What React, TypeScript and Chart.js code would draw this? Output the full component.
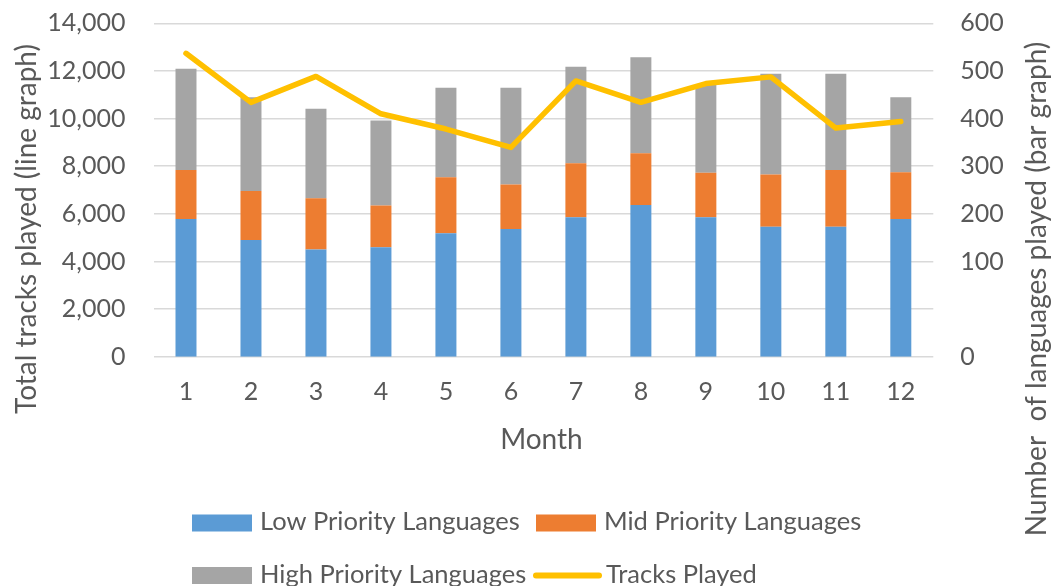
import { useEffect, useRef } from 'react';
import { Chart, registerables } from 'chart.js';

Chart.register(...registerables);

// ---- data ----
const months = ['1', '2', '3', '4', '5', '6', '7', '8', '9', '10', '11', '12'];
const lowPriority = [248, 210, 193, 197, 222, 230, 251, 273, 251, 234, 234, 248];
const midPriority = [88, 88, 92, 75, 101, 80, 97, 93, 80, 94, 102, 84];
const highPriority = [182, 169, 161, 153, 161, 174, 174, 173, 159, 181, 173, 135];
const tracksPlayed = [12740, 10680, 11770, 10200, 9560, 8790, 11580, 10680, 11470, 11750, 9600, 9880];
const seriesLabels = ['Low Priority Languages', 'Mid Priority Languages', 'High Priority Languages', 'Tracks Played'];
const leftMax = 14000;
const leftStep = 2000;
const rightMax = 600;
const rightTickLabels = ['0', '', '100', '200', '300', '400', '500', '600'];
const xTitle = 'Month';
const leftTitle = 'Total tracks played (line graph)';
const rightTitle = 'Number  of languages played (bar graph)';

// ---- styles ----
const FONT = 'Lato, "Open Sans", sans-serif';
const TEXT = '#595959';
const BLUE = '#5B9BD5';
const ORANGE = '#ED7D31';
const GRAY = '#A5A5A5';
const GOLD = '#FFC000';
const GRID = '#D9D9D9';

export default function App() {
  const ref = useRef<HTMLCanvasElement | null>(null);

  useEffect(() => {
    document.body.style.margin = '0';
    const canvas = ref.current;
    if (!canvas) return;

    const textPlugin = {
      id: 'textPlugin',
      afterDraw(chart: any) {
        const ctx = chart.ctx as CanvasRenderingContext2D;
        const area = chart.chartArea;
        ctx.save();
        ctx.fillStyle = TEXT;
        // x title
        ctx.font = `28px ${FONT}`;
        ctx.textAlign = 'center';
        ctx.textBaseline = 'middle';
        ctx.fillText(xTitle, (area.left + area.right) / 2 - 2, 440);
        // left title
        ctx.save();
        ctx.translate(27, 229);
        ctx.rotate(-Math.PI / 2);
        ctx.fillText(leftTitle, 0, 0);
        ctx.restore();
        // right title
        ctx.save();
        ctx.translate(1037, 289);
        ctx.rotate(-Math.PI / 2);
        ctx.fillText(rightTitle, 0, 0);
        ctx.restore();

        // legend
        const ds = chart.data.datasets;
        const cols = [192, 536];
        const rows = [523, 575.5];
        ctx.font = `25.5px ${FONT}`;
        ctx.textAlign = 'left';
        ctx.textBaseline = 'middle';
        ds.forEach((d: any, i: number) => {
          const cx = cols[i % 2];
          const cy = rows[Math.floor(i / 2)];
          if (d.type === 'line') {
            ctx.strokeStyle = d.borderColor;
            ctx.lineWidth = 6;
            ctx.lineCap = 'round';
            ctx.beginPath();
            ctx.moveTo(cx, cy);
            ctx.lineTo(cx + 63, cy);
            ctx.stroke();
            ctx.fillStyle = TEXT;
            ctx.fillText(d.label, cx + 70, cy - 1);
          } else {
            ctx.fillStyle = d.backgroundColor;
            ctx.fillRect(cx, cy - 8.5, 60, 17);
            ctx.fillStyle = TEXT;
            ctx.fillText(d.label, cx + 68, cy - 1);
          }
        });
        ctx.restore();
      },
    };

    const noVPad = (s: any) => { s.paddingTop = 0; s.paddingBottom = 0; };

    const chart = new Chart(canvas, {
      data: {
        labels: months,
        datasets: [
          { type: 'bar', label: seriesLabels[0], data: lowPriority, backgroundColor: BLUE, yAxisID: 'y1', order: 1, barPercentage: 0.323, categoryPercentage: 1 },
          { type: 'bar', label: seriesLabels[1], data: midPriority, backgroundColor: ORANGE, yAxisID: 'y1', order: 1, barPercentage: 0.323, categoryPercentage: 1 },
          { type: 'bar', label: seriesLabels[2], data: highPriority, backgroundColor: GRAY, yAxisID: 'y1', order: 1, barPercentage: 0.323, categoryPercentage: 1 },
          { type: 'line', label: seriesLabels[3], data: tracksPlayed, borderColor: GOLD, backgroundColor: GOLD, borderWidth: 5.5, pointRadius: 0, tension: 0, borderJoinStyle: 'round', borderCapStyle: 'round', yAxisID: 'y', order: 0 },
        ] as any,
      },
      options: {
        responsive: false,
        animation: false,
        events: [],
        layout: { padding: { left: 0, right: 0, top: 23.3, bottom: 586 - 356.7 - 60 } },
        plugins: { legend: { display: false }, tooltip: { enabled: false }, title: { display: false } },
        scales: {
          x: {
            type: 'category',
            stacked: true,
            offset: true,
            grid: { display: false, drawTicks: false },
            border: { display: false },
            ticks: { color: TEXT, font: { family: FONT, size: 25 }, padding: 20, maxRotation: 0, autoSkip: false },
            afterFit: (s: any) => { s.height = 60; s.paddingLeft = 0; s.paddingRight = 0; },
          },
          y: {
            type: 'linear',
            position: 'left',
            min: 0,
            max: leftMax,
            grid: { color: GRID, lineWidth: 1.5, drawTicks: false },
            border: { display: false },
            ticks: {
              stepSize: leftStep,
              color: TEXT,
              font: { family: FONT, size: 25 },
              padding: 28,
              callback: (v: any) => Number(v).toLocaleString('en-US'),
            },
            afterFit: (s: any) => { s.width = 153.5; noVPad(s); },
          },
          y1: {
            type: 'linear',
            position: 'right',
            stacked: true,
            min: 0,
            max: rightMax,
            grid: { display: false, drawTicks: false },
            border: { display: false },
            afterBuildTicks: (s: any) => {
              s.ticks = rightTickLabels.map((_, i) => ({ value: (rightMax * i) / (rightTickLabels.length - 1) }));
            },
            ticks: {
              color: TEXT,
              font: { family: FONT, size: 25 },
              padding: 27,
              callback: (_v: any, i: number) => rightTickLabels[i],
            },
            afterFit: (s: any) => { s.width = 1053 - 933.3; noVPad(s); },
          },
        },
      } as any,
      plugins: [textPlugin],
    });

    return () => chart.destroy();
  }, []);

  return (
    <div style={{ width: 1053, height: 586, overflow: 'hidden', position: 'relative' }}>
      <canvas ref={ref} width={1053} height={586} style={{ display: 'block' }} />
    </div>
  );
}
